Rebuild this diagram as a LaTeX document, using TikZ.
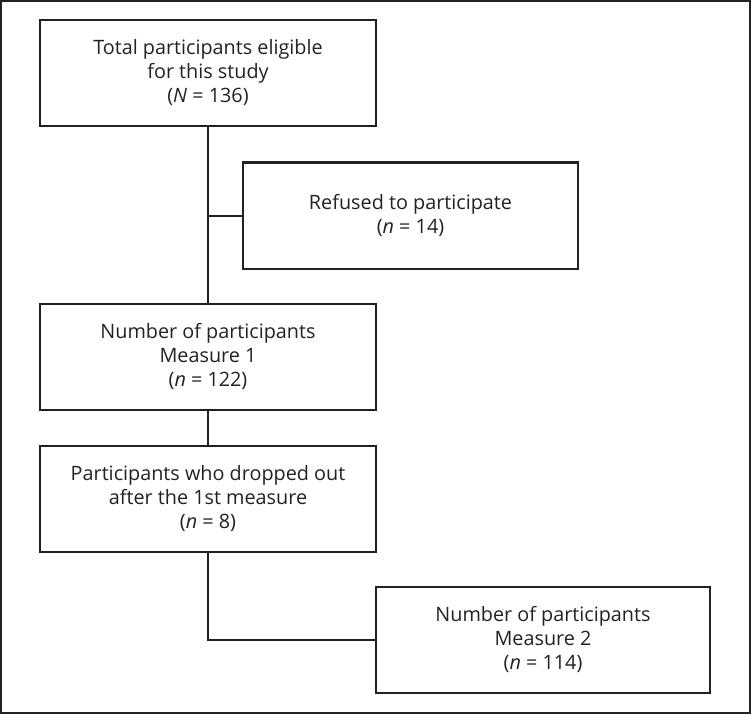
\documentclass[tikz,border=0pt]{standalone}
\usepackage{fontspec}
\setmainfont{Open Sans}
\definecolor{ink}{HTML}{222222}
\begin{document}
\begin{tikzpicture}[x=1pt,y=-1pt,
  box/.style={draw=ink, line width=2pt, minimum width=336pt, minimum height=106pt,
    align=center, inner sep=0pt, text=ink, font=\fontsize{19.8}{24}\selectfont},
  conn/.style={draw=ink, line width=2pt}]
\useasboundingbox (0,0) rectangle (751,714);
\draw[ink, line width=2pt] (1,1) rectangle (750,713);
\node[box] (A) at (208,73) {Total participants eligible\\for this study\\(\textit{N} = 136)};
\node[box, minimum width=335pt] (B) at (410.5,215.5) {Refused to participate\\(\textit{n} = 14)};
\node[box] (C) at (208,356.5) {Number of participants\\Measure 1\\(\textit{n} = 122)};
\node[box] (D) at (208,499) {Participants who dropped out\\after the 1st measure\\(\textit{n} = 8)};
\node[box, minimum width=334pt] (E) at (543,639.5) {Number of participants\\Measure 2\\(\textit{n} = 114)};
\draw[conn] (A.south) -- (C.north);
\draw[conn] (A.south |- B.west) -- (B.west);
\draw[conn] (C.south) -- (D.north);
\draw[conn] (D.south) |- (E.west);
\end{tikzpicture}
\end{document}
